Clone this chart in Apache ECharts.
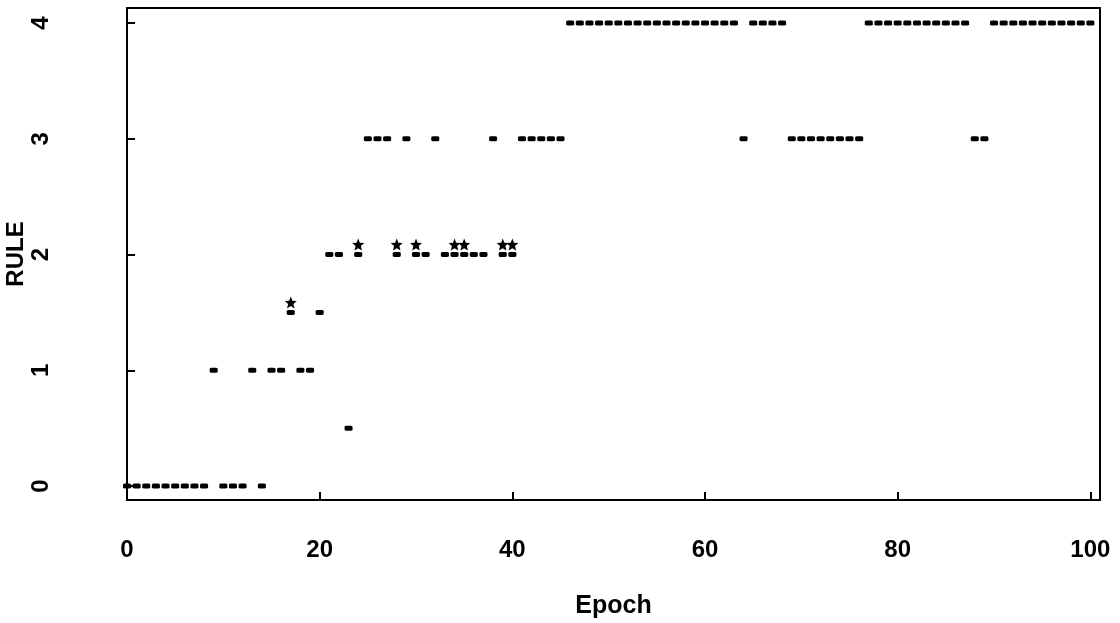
<!DOCTYPE html>
<html>
<head>
<meta charset="utf-8">
<script src="https://cdn.jsdelivr.net/npm/echarts@6/dist/echarts.min.js"></script>
<style>
  html, body { margin: 0; padding: 0; background: #fff; }
  #chart { width: 1120px; height: 623px; }
</style>
</head>
<body>
<div id="chart"></div>
<script>
// Epoch numbers (x)
const epochs = [
  0,1,2,3,4,5,6,7,8,9,10,11,12,13,14,15,16,17,18,19,
  20,21,22,23,24,25,26,27,28,29,30,31,32,33,34,35,36,37,38,39,
  40,41,42,43,44,45,46,47,48,49,50,51,52,53,54,55,56,57,58,59,
  60,61,62,63,64,65,66,67,68,69,70,71,72,73,74,75,76,77,78,79,
  80,81,82,83,84,85,86,87,88,89,90,91,92,93,94,95,96,97,98,99,100
];
// RULE value at each epoch
const rule = [
  0,0,0,0,0,0,0,0,0,1,0,0,0,1,0,1,1,1.5,1,1,
  1.5,2,2,0.5,2,3,3,3,2,3,2,2,3,2,2,2,2,2,3,2,
  2,3,3,3,3,3,4,4,4,4,4,4,4,4,4,4,4,4,4,4,
  4,4,4,4,3,4,4,4,4,3,3,3,3,3,3,3,3,4,4,4,
  4,4,4,4,4,4,4,4,3,3,4,4,4,4,4,4,4,4,4,4,4
];
// Epochs marked with a star
const starEpochs = [17, 24, 28, 30, 34, 35, 39, 40];
const starRule   = [1.5, 2, 2, 2, 2, 2, 2, 2];

const xTicks = [0, 20, 40, 60, 80, 100];
const yTicks = [0, 1, 2, 3, 4];

const font = 'Liberation Sans';
const chart = echarts.init(document.getElementById('chart'), null, { renderer: 'canvas' });

const starPath = 'path://M50,0 L63,33 L98,35 L71,58 L80,93 L50,74 L20,93 L29,58 L2,35 L37,33 Z';

chart.setOption({
  animation: false,
  backgroundColor: '#fff',
  grid: {
    left: 127, top: 8, right: 20, bottom: 123,
    outerBoundsMode: 'none', containLabel: false,
    show: true, borderColor: '#000', borderWidth: 2, backgroundColor: 'transparent'
  },
  xAxis: {
    type: 'value', min: 0, max: 101,
    name: 'Epoch', nameLocation: 'middle', nameGap: 94, nameMoveOverlap: false,
    nameTextStyle: { fontFamily: font, fontWeight: 'bold', fontSize: 25, color: '#000' },
    axisLine: { show: true, onZero: false, lineStyle: { color: '#000', width: 2 } },
    axisTick: { show: true, inside: true, length: 8, lineStyle: { color: '#000', width: 2 }, customValues: xTicks },
    axisLabel: { customValues: xTicks, fontFamily: font, fontWeight: 'bold', fontSize: 24, color: '#000', margin: 38 },
    splitLine: { show: false }
  },
  yAxis: {
    type: 'value', min: -0.12, max: 4.13,
    name: 'RULE', nameLocation: 'middle', nameGap: 99, nameRotate: 90, nameMoveOverlap: false,
    nameTextStyle: { fontFamily: font, fontWeight: 'bold', fontSize: 24, color: '#000' },
    axisLine: { show: true, onZero: false, lineStyle: { color: '#000', width: 2 } },
    axisTick: { show: true, inside: true, length: 8, lineStyle: { color: '#000', width: 2 }, customValues: yTicks },
    axisLabel: { customValues: yTicks, rotate: 90, fontFamily: font, fontWeight: 'bold', fontSize: 24, color: '#000', margin: 74 },
    splitLine: { show: false }
  },
  series: [
    {
      name: 'rule', type: 'scatter', clip: false,
      data: epochs.map((e, i) => [e, rule[i]]),
      symbol: 'roundRect', symbolSize: [8, 5],
      itemStyle: { color: '#000', opacity: 1 }
    },
    {
      name: 'star', type: 'scatter', clip: false,
      data: starEpochs.map((e, i) => [e, starRule[i]]),
      symbol: starPath, symbolSize: 12, symbolOffset: [0, -10],
      itemStyle: { color: '#000', opacity: 1 }
    }
  ]
});
</script>
</body>
</html>
